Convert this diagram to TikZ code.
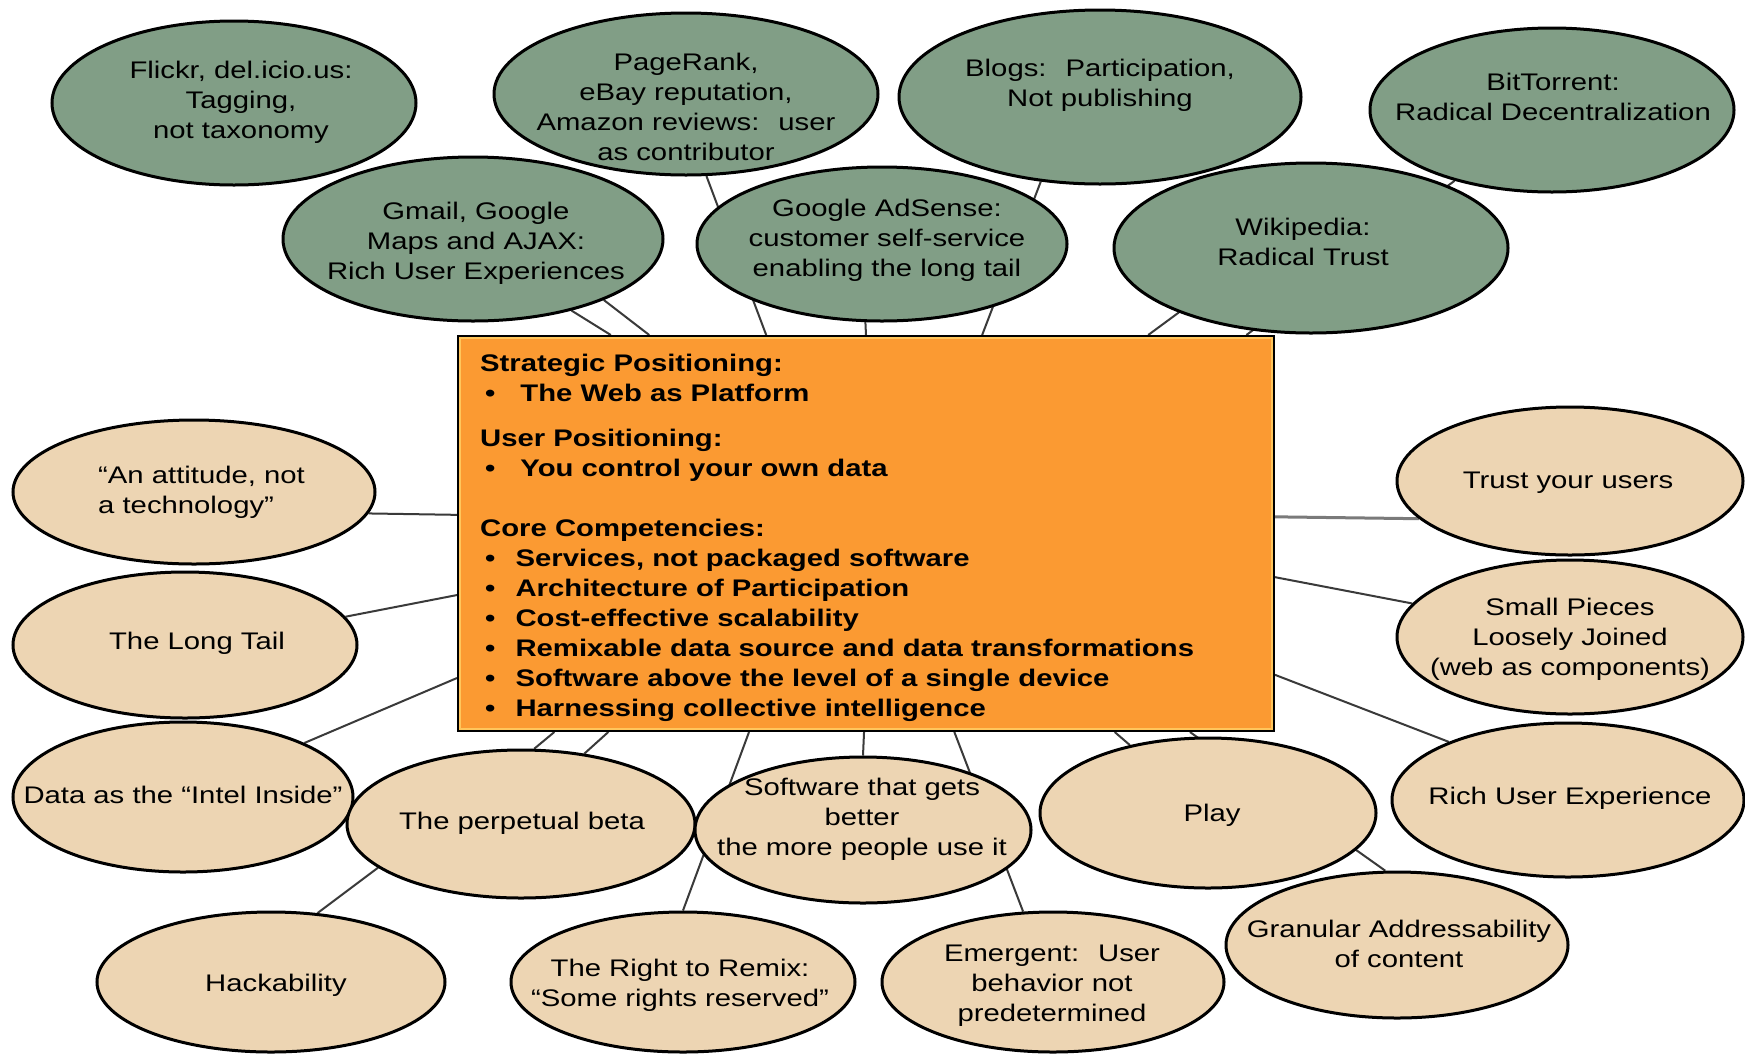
\documentclass[tikz,border=0pt]{standalone}
\usepackage{fontspec}
\setmainfont{Liberation Sans}
\usepackage{graphicx}
\usetikzlibrary{shapes.geometric,backgrounds,calc}
\pgfdeclarelayer{bgzero}
\pgfsetlayers{bgzero,background,main}
\definecolor{sage}{HTML}{819E86}
\definecolor{tanfill}{HTML}{EDD5B3}
\definecolor{boxorange}{HTML}{FB9A32}
\definecolor{boxinner}{HTML}{FFC65C}
\definecolor{connc}{HTML}{3A3A3A}
\definecolor{conngray}{HTML}{7A7A7A}
\newcommand\wtxt[1]{\scalebox{1.22}[1]{\begin{tabular}{@{}c@{}}#1\end{tabular}}}
\newcommand\wtxtl[1]{\scalebox{1.22}[1]{\begin{tabular}{@{}l@{}}#1\end{tabular}}}
\newcommand\bul[1]{\makebox[#1pt][l]{\hspace{4pt}\textbullet}}
\tikzset{
  bub/.style={ellipse, draw=black, line width=3pt, inner sep=0pt},
  gbub/.style={bub, fill=sage},
  tbub/.style={bub, fill=tanfill},
  lbl/.style={inner sep=0pt, font=\fontsize{24}{30}\selectfont},
  conn/.style={draw=connc, line width=2pt},
}
\begin{document}
\begin{tikzpicture}[x=1pt,y=-1pt]
\useasboundingbox (0,0) rectangle (1745,1053);
\begin{pgfonlayer}{bgzero}
\fill[white] (0,0) rectangle (1745,1053);
\end{pgfonlayer}

% central box
\node[draw=black, line width=3pt, fill=boxorange, minimum width=815pt, minimum height=394pt, inner sep=0pt] (box) at (866,533.5) {};
\draw[draw=boxinner, line width=1.5pt] ($(box.north west)+(3,3)$) rectangle ($(box.south east)+(-3,-3)$);
\node[lbl, anchor=base west] (boxtext) at (480,371) {\scalebox{1.22}[1]{\bfseries\begin{tabular}[t]{@{}l@{}}
Strategic Positioning:\\
\bul{33}The Web as Platform\\[15pt]
User Positioning:\\
\bul{33}You control your own data\\[30pt]
Core Competencies:\\
\bul{29}Services, not packaged software\\
\bul{29}Architecture of Participation\\
\bul{29}Cost-effective scalability\\
\bul{29}Remixable data source and data transformations\\
\bul{29}Software above the level of a single device\\
\bul{29}Harnessing collective intelligence
\end{tabular}}};

% green ellipses
\node[gbub, minimum width=364pt, minimum height=164pt] (flickr) at (234,103) {};
\node[gbub, minimum width=384pt, minimum height=162pt] (pagerank) at (686,94) {};
\node[gbub, minimum width=402pt, minimum height=174pt] (blogs) at (1100,97) {};
\node[gbub, minimum width=364pt, minimum height=164pt] (bittorrent) at (1552,110) {};
\node[gbub, minimum width=380pt, minimum height=164pt] (gmail) at (473,239) {};
\node[gbub, minimum width=370pt, minimum height=154pt] (adsense) at (882,244) {};
\node[gbub, minimum width=394pt, minimum height=170pt] (wikipedia) at (1311,248) {};

\node[lbl] (flickrt) at (241,102) {\wtxt{Flickr, del.icio.us:\\ Tagging,\\ not taxonomy}};
\node[lbl] (pageranktt) at (686,109) {\wtxt{PageRank,\\ eBay reputation,\\ Amazon reviews:~ user\\ as contributor}};
\node[lbl] (blogst) at (1100,85) {\wtxt{Blogs:~ Participation,\\ Not publishing}};
\node[lbl] (bittorrentt) at (1553,99) {\wtxt{BitTorrent:\\ Radical Decentralization}};
\node[lbl] (gmailt) at (476,243) {\wtxt{Gmail, Google\\ Maps and AJAX:\\ Rich User Experiences}};
\node[lbl] (adsenset) at (887,240) {\wtxt{Google AdSense:\\ customer self-service\\ enabling the long tail}};
\node[lbl] (wikipediat) at (1303,244) {\wtxt{Wikipedia:\\ Radical Trust}};

% tan ellipses
\node[tbub, minimum width=362pt, minimum height=144pt] (attitude) at (194,492) {};
\node[tbub, minimum width=344pt, minimum height=146pt] (longtail) at (185,645) {};
\node[tbub, minimum width=340pt, minimum height=150pt] (data) at (183,797) {};
\node[tbub, minimum width=348pt, minimum height=148pt] (beta) at (521,824) {};
\node[tbub, minimum width=336pt, minimum height=146pt] (software) at (863,830) {};
\node[tbub, minimum width=336pt, minimum height=150pt] (play) at (1208,813) {};
\node[tbub, minimum width=352pt, minimum height=154pt] (rich) at (1568,800) {};
\node[tbub, minimum width=346pt, minimum height=148pt] (trust) at (1570,481) {};
\node[tbub, minimum width=346pt, minimum height=154pt] (small) at (1570,637) {};
\node[tbub, minimum width=348pt, minimum height=140pt] (hack) at (271,982) {};
\node[tbub, minimum width=344pt, minimum height=140pt] (remix) at (683,982) {};
\node[tbub, minimum width=342pt, minimum height=140pt] (emergent) at (1053,982) {};
\node[tbub, minimum width=342pt, minimum height=146pt] (granular) at (1397,945) {};

\node[lbl, anchor=west] (attitudet) at (98,492) {\wtxtl{“An attitude, not\\ a technology”}};
\node[lbl] (longtailt) at (197,643) {\wtxt{The Long Tail}};
\node[lbl] (datat) at (183,797) {\wtxt{Data as the “Intel Inside”}};
\node[lbl] (betat) at (522,823) {\wtxt{The perpetual beta}};
\node[lbl] (softwaret) at (862,819) {\wtxt{Software that gets\\ better\\ the more people use it}};
\node[lbl] (playt) at (1212,815) {\wtxt{Play}};
\node[lbl] (richt) at (1570,798) {\wtxt{Rich User Experience}};
\node[lbl] (trustt) at (1568,482) {\wtxt{Trust your users}};
\node[lbl] (smallt) at (1570,639) {\wtxt{Small Pieces\\ Loosely Joined\\ (web as components)}};
\node[lbl] (hackt) at (276,985) {\wtxt{Hackability}};
\node[lbl] (remixt) at (680,985) {\wtxt{The Right to Remix:\\ “Some rights reserved”}};
\node[lbl] (emergentt) at (1052,985) {\wtxt{Emergent:~ User\\ behavior not\\ predetermined}};
\node[lbl] (granulart) at (1399,946) {\wtxt{Granular Addressability\\ of content}};

% connectors
\begin{scope}[on background layer]
\draw[conn] (gmail.-36) -- ($(box.north west)!0.188!(box.north east)$);
\draw[conn] (gmail.-25) -- ($(box.north west)!0.235!(box.north east)$);
\draw[conn] (pagerank.-76.5) -- ($(box.north west)!0.378!(box.north east)$);
\draw[conn] (adsense.-102) -- ($(box.north west)!0.5!(box.north east)$);
\draw[conn] (blogs.-125) -- ($(box.north west)!0.642!(box.north east)$);
\draw[conn] (wikipedia.-154) -- ($(box.north west)!0.845!(box.north east)$);
\draw[conn] (bittorrent.-144.7) -- ($(box.north west)!0.965!(box.north east)$);
\draw[conn] (attitude.-7) -- ($(box.north west)!0.453!(box.south west)$);
\draw[conn] (longtail.10.6) -- ($(box.north west)!0.655!(box.south west)$);
\draw[conn] (data.24.8) -- ($(box.north west)!0.864!(box.south west)$);
\draw[draw=conngray, line width=3pt] (trust.-166.8) -- ($(box.north east)!0.458!(box.south east)$);
\draw[conn] (small.168.5) -- ($(box.north east)!0.61!(box.south east)$);
\draw[conn] (rich.154.4) -- ($(box.north east)!0.856!(box.south east)$);
\draw[conn] (beta.80) -- ($(box.south west)!0.119!(box.south east)$);
\draw[conn] (beta.48.9) -- ($(box.south west)!0.185!(box.south east)$);
\draw[conn] (remix.90) -- ($(box.south west)!0.357!(box.south east)$);
\draw[conn] (software.90) -- ($(box.south west)!0.4976!(box.south east)$);
\draw[conn] (emergent.113.2) -- ($(box.south west)!0.608!(box.south east)$);
\draw[conn] (play.139.5) -- ($(box.south west)!0.804!(box.south east)$);
\draw[conn] (granular.99.3) -- ($(box.south west)!0.896!(box.south east)$);
\draw[conn] (hack.56.9) -- (beta.-163.2);
\end{scope}
\end{tikzpicture}
\end{document}
